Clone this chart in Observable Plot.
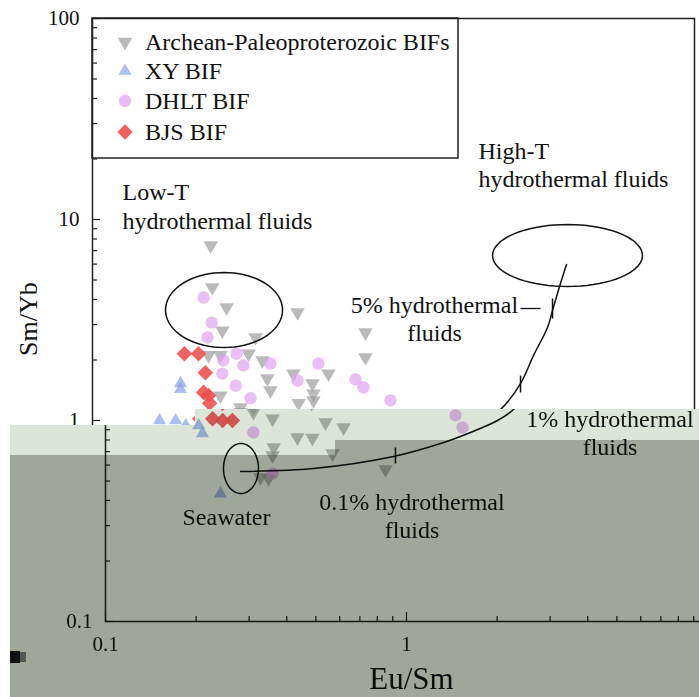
<!DOCTYPE html>
<html><head><meta charset="utf-8">
<script src="https://cdn.jsdelivr.net/npm/d3@7"></script>
<script src="https://cdn.jsdelivr.net/npm/@observablehq/plot@0.6"></script>
<style>
html,body{margin:0;padding:0;background:#fff;}
svg{max-width:none !important;}
#root{position:relative;width:699px;height:697px;overflow:hidden;background:#fff;}
#base,#legend{position:absolute;left:0;top:0;}
#shade{position:absolute;left:0;top:0;width:699px;height:697px;background:#fff;isolation:isolate;
  clip-path:polygon(10px 425px,195px 425px,195px 409px,699px 409px,699px 697px,10px 697px);}
#shifted{position:absolute;left:13px;top:0;width:699px;height:697px;}
.light{position:absolute;left:0;top:0;width:699px;height:697px;background:#dde5d8;mix-blend-mode:multiply;
  clip-path:polygon(10px 425px,195px 425px,195px 409px,699px 409px,699px 440px,335px 440px,335px 455px,10px 455px);}
.dark{position:absolute;left:0;top:0;width:699px;height:697px;background:#a0a79a;mix-blend-mode:multiply;
  clip-path:polygon(10px 455px,335px 455px,335px 440px,699px 440px,699px 697px,10px 697px);}
.blot{position:absolute;left:10px;top:651px;width:10px;height:12px;background:#111;}
.blot2{position:absolute;left:20px;top:652px;width:6px;height:10px;background:#555;}
</style></head><body>
<div id="root">
  <div id="base"></div>
  <svg id="legend" width="699" height="697"></svg>
  <div id="shade">
    <div id="shifted"></div>
    <div class="light"></div>
    <div class="dark"></div>
  </div>
  <div class="blot"></div><div class="blot2"></div>
</div>
<script>
// ---- data: [Eu/Sm, Sm/Yb]
const archean = [[0.247,7.42],[0.250,4.59],[0.279,3.65],[0.480,3.45],[0.270,2.80],[0.807,2.74],[0.348,2.59],
  [0.807,2.06],[0.243,2.11],[0.266,2.11],[0.330,2.15],[0.367,1.99],[0.465,1.71],[0.608,1.71],[0.381,1.62],
  [0.390,1.41],[0.538,1.53],[0.542,1.36],[0.542,1.26],[0.266,1.33],[0.310,1.16],[0.484,1.22],
  [0.310,1.10],[0.359,1.02],[0.538,0.977],[0.618,0.923],[0.434,0.823],[0.487,0.819],[0.362,0.734],
  [0.359,0.670],[0.568,0.685],[0.852,0.571],[0.327,0.521],[0.348,0.515]];
const xy = [[0.196,1.53],[0.196,1.43],[0.167,1.0],[0.189,1.0],[0.204,0.944],[0.210,0.862],[0.241,0.433]];
const dhlt = [[0.234,4.09],[0.249,3.07],[0.241,2.59],[0.301,2.15],[0.272,1.99],[0.317,1.88],[0.390,1.92],
  [0.563,1.92],[0.270,1.71],[0.480,1.58],[0.748,1.60],[0.795,1.46],[0.299,1.49],[0.335,1.29],[0.977,1.26],
  [1.455,1.06],[1.535,0.923],[0.310,0.872],[0.359,0.545]];
const bjs = [[0.202,2.15],[0.225,2.15],[0.237,1.73],[0.234,1.38],[0.243,1.33],[0.245,1.22],[0.227,1.02],[0.245,1.0],[0.264,1.0]];

const legendLabels = ["Archean-Paleoproterozoic BIFs","XY BIF","DHLT BIF","BJS BIF"];
const xMajor = [0.1, 1, 10];
const xMinor = [0.2,0.3,0.4,0.5,0.6,0.7,0.8,0.9,2,3,4,5,6,7,8,9];
const xTickLabels = [0.1, 1];
const yMajor = [0.1, 1, 10, 100];
const yMinor = [0.2,0.3,0.4,0.5,0.6,0.7,0.8,0.9,2,3,4,5,6,7,8,9,20,30,40,50,60,70,80,90];
const yTickLabelsUpper = [1, 10, 100];
const yTickLabelsLower = [0.1];

// mixing curve seawater -> high-T fluids
const mixCurve = [[0.281,0.558],[0.491,0.577],[0.905,0.662],[1.297,0.768],[1.632,0.872],[2.006,1.0],
  [2.267,1.134],[2.642,1.527],[2.919,2.107],[3.248,2.901],[3.375,3.526],[3.587,4.80],[3.757,5.97]];
const curveTicks = [[0.919,0.734,0.611],[2.642,1.674,1.378],[3.375,4.046,3.217]];
const dashes = [[2.642,3.078,3.607]];
// ellipses: center x, center y, half-width (decades), half-height (decades)
const ellipses = [[0.2735,3.546,0.1944,0.1866],[0.2819,0.577,0.0581,0.1244],[3.785,6.62,0.249,0.154]];
const labelsStart = [
  {x:0.1258, y:9.02, text:"Low-T\nhydrothermal fluids"},
  {x:1.916, y:14.43, text:"High-T\nhydrothermal fluids"}];
const labelsMiddleUpper = [
  {x:1.368, y:2.50, text:"5% hydrothermal\nfluids"}];
const labelsMiddleLower = [
  {x:4.743, y:0.670, text:"1% hydrothermal\nfluids"},
  {x:1.043, y:0.259, text:"0.1% hydrothermal\nfluids"},
  {x:0.2523, y:0.3006, text:"Seawater"}];

const C = {gray:"#999999", blue:"#86a2ea", pink:"#dea2f1", red:"#ee5050"};
const FONT = "'Liberation Serif','Times New Roman',serif";

function ellipsePts(e, id){
  const [cx,cy,rx,ry] = e, pts=[];
  for(let i=0;i<=72;i++){const t=i/72*2*Math.PI; pts.push({id, x:cx*Math.pow(10,rx*Math.cos(t)), y:cy*Math.pow(10,ry*Math.sin(t))});}
  return pts;
}
const ellData = ellipses.flatMap((e,i)=>ellipsePts(e,i));

// upper = the unshifted part of the picture, lower = the shifted, shaded part
function chart(upper){
  const FW = 699-92-5, FH = 697-18-76;
  const textMarks = upper ? [
      Plot.axisY({ticks:yTickLabelsUpper, tickSize:0, tickPadding:13, tickFormat:d=>String(d), fontSize:21, label:null}),
      Plot.text(["Sm/Yb"],{frameAnchor:"left", rotate:-90, dx:-64, dy:36, fontSize:26, fill:"#111"}),
      Plot.text(labelsStart,{x:"x", y:"y", text:"text", textAnchor:"start", lineAnchor:"bottom", lineHeight:1.2, fontSize:24, fill:"#111"}),
      Plot.text(labelsMiddleUpper,{x:"x", y:"y", text:"text", textAnchor:"middle", lineAnchor:"bottom", lineHeight:1.15, fontSize:24, fill:"#111"})
    ] : [
      Plot.axisY({ticks:yTickLabelsLower, tickSize:0, tickPadding:13, tickFormat:d=>String(d), fontSize:21, label:null}),
      Plot.axisX({ticks:xTickLabels, tickSize:0, tickPadding:15, tickFormat:d=>String(d), fontSize:21, label:null}),
      Plot.text(["Eu/Sm"],{frameAnchor:"bottom", lineAnchor:"bottom", dx:5, dy:67, fontSize:31, fill:"#111"}),
      Plot.text(labelsMiddleLower,{x:"x", y:"y", text:"text", textAnchor:"middle", lineAnchor:"bottom", lineHeight:1.17, fontSize:24, fill:"#111"})
    ];
  return Plot.plot({
    width:699, height:697, marginLeft:92, marginRight:5, marginTop:18, marginBottom:76,
    x:{type:"log", domain:[0.1,10]},
    y:{type:"log", domain:[0.1,100]},
    style:{fontFamily:FONT, fontSize:"21px", color:"#111", background:"#fff", maxWidth:"none"},
    marks:[
      Plot.frame({stroke:"#222", strokeWidth:1.5}),
      Plot.tickY(yMajor,{y:d=>d, insetRight:FW-8, stroke:"#222", strokeWidth:1.2}),
      Plot.tickY(yMinor,{y:d=>d, insetRight:FW-5, stroke:"#222", strokeWidth:1.2}),
      Plot.tickX(xMajor,{x:d=>d, insetTop:FH-9, stroke:"#222", strokeWidth:1.2}),
      Plot.tickX(xMinor,{x:d=>d, insetTop:FH-5, stroke:"#222", strokeWidth:1.2}),
      Plot.dot(archean,{x:d=>d[0], y:d=>d[1], symbol:"triangle", rotate:180, r:5.4, fill:C.gray, fillOpacity:0.68}),
      Plot.dot(xy,{x:d=>d[0], y:d=>d[1], symbol:"triangle", r:4.9, fill:C.blue, fillOpacity:0.7}),
      Plot.dot(dhlt,{x:d=>d[0], y:d=>d[1], symbol:"circle", r:6.2, fill:C.pink, fillOpacity:0.7}),
      Plot.dot(bjs,{x:d=>d[0], y:d=>d[1], symbol:"square", rotate:45, r:6.2, fill:C.red, fillOpacity:0.9}),
      Plot.line(ellData,{x:"x", y:"y", z:"id", stroke:"#111", strokeWidth:1.5}),
      Plot.line(mixCurve,{x:d=>d[0], y:d=>d[1], curve:"catmull-rom", stroke:"#111", strokeWidth:1.5}),
      Plot.link(curveTicks,{x1:d=>d[0], x2:d=>d[0], y1:d=>d[1], y2:d=>d[2], stroke:"#111", strokeWidth:1.5}),
      Plot.link(dashes,{x1:d=>d[0], x2:d=>d[1], y1:d=>d[2], y2:d=>d[2], stroke:"#111", strokeWidth:1.3}),
      ...textMarks
    ]
  });
}

document.getElementById("base").append(chart(true));
document.getElementById("shifted").append(chart(false));

// legend
const lg = d3.select("#legend");
lg.append("rect").attr("x",92).attr("y",18).attr("width",366).attr("height",140)
  .attr("fill","none").attr("stroke","#222").attr("stroke-width",1.5);
const legendSym = [
  {type:d3.symbolTriangle, r:5.4, rot:180, fill:C.gray, op:0.68},
  {type:d3.symbolTriangle, r:4.9, rot:0, fill:C.blue, op:0.7},
  {type:d3.symbolCircle, r:6.2, rot:0, fill:C.pink, op:0.7},
  {type:d3.symbolSquare, r:6.2, rot:45, fill:C.red, op:0.9}];
const baselines = [50,79,109,140];
legendLabels.forEach((lab,i)=>{
  const s = legendSym[i];
  lg.append("path").attr("d", d3.symbol(s.type, Math.PI*s.r*s.r)())
    .attr("transform",`translate(125,${baselines[i]-8}) rotate(${s.rot})`)
    .attr("fill",s.fill).attr("fill-opacity",s.op);
  lg.append("text").attr("x",145).attr("y",baselines[i]).text(lab)
    .attr("font-family",FONT).attr("font-size",24).attr("fill","#111");
});
</script>
</body></html>
